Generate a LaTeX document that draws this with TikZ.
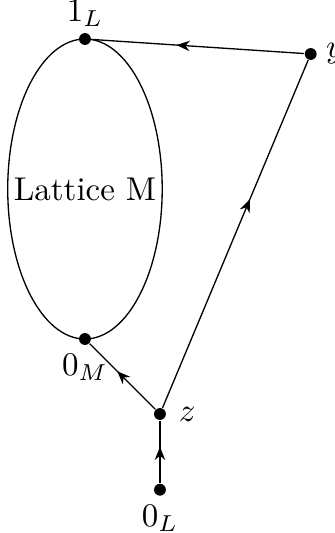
\documentclass[tikz,border=0pt]{standalone}
\usepackage{amsmath,amssymb}
\usepackage{tikz}
\usetikzlibrary{arrows.meta,decorations.markings}

\tikzset{
  dot/.style={circle,fill,inner sep=0pt,minimum size=3.6pt},
  midarrow/.style={postaction={decorate},
    decoration={markings,mark=at position #1 with {\arrow{Stealth[length=4pt,width=3.2pt]}}}},
  midarrow/.default=0.58
}

\begin{document}
\begin{tikzpicture}[scale=0.8]
  \useasboundingbox (-1.133,-2.587) rectangle (3.333,4.52);
  % the lattice M
  \draw (0,2) ellipse [x radius=1.03,y radius=2];
  \node (latM) at (0,2) {Lattice M};
  % points
  \node[dot,label={[inner sep=1.5pt]above:$1_L$}] (oneL) at (0,4) {};
  \node[dot,label={[inner sep=2.5pt]below:$0_M$}] (zeroM) at (0,0) {};
  \node[dot,label={[inner sep=2.5pt]right:$y$}] (y) at (3.01,3.8) {};
  \node[dot,label={[inner sep=3.5pt]right:$z$}] (z) at (1,-1) {};
  \node[dot,label={[inner sep=2.5pt]below:$0_L$}] (zeroL) at (1,-2.01) {};
  % connectors
  \draw[midarrow=0.6] (y) -- (oneL);
  \draw[midarrow=0.6] (z) -- (y);
  \draw[midarrow] (z) -- (zeroM);
  \draw[midarrow] (zeroL) -- (z);
\end{tikzpicture}
\end{document}
